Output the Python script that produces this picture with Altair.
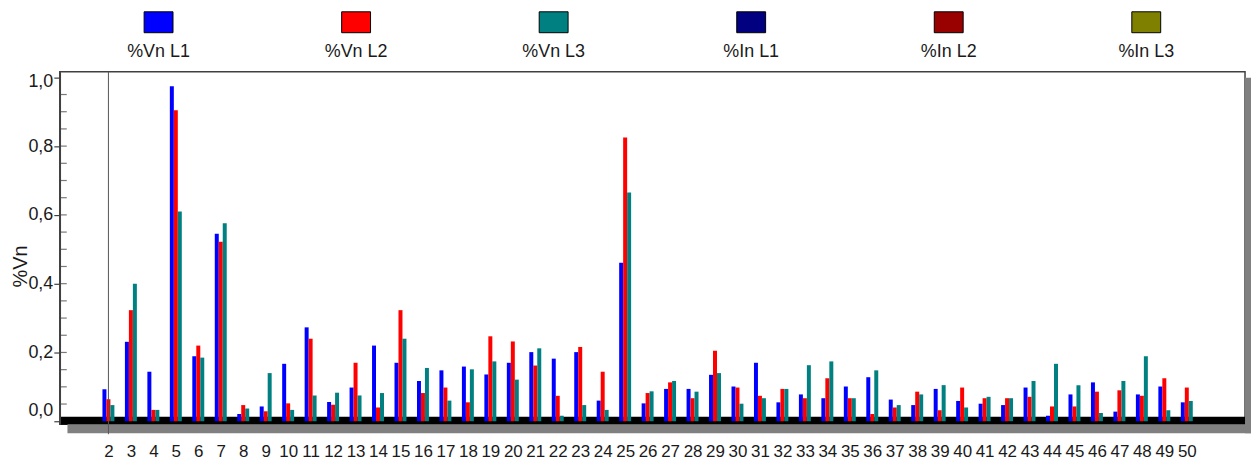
import altair as alt
import pandas as pd

# ---------------- data ----------------
harmonics = list(range(2, 51))
vn_l1 = [0.093, 0.231, 0.144, 0.974, 0.189, 0.545, 0.021, 0.043, 0.167, 0.273,
         0.056, 0.098, 0.220, 0.170, 0.117, 0.148, 0.159, 0.136, 0.170, 0.201,
         0.182, 0.201, 0.060, 0.461, 0.052, 0.094, 0.094, 0.135, 0.101, 0.170,
         0.055, 0.078, 0.067, 0.101, 0.128, 0.063, 0.047, 0.094, 0.059, 0.051,
         0.047, 0.098, 0.016, 0.078, 0.113, 0.028, 0.078, 0.101, 0.055]
vn_l2 = [0.064, 0.323, 0.033, 0.904, 0.220, 0.522, 0.047, 0.029, 0.052, 0.240,
         0.048, 0.170, 0.040, 0.323, 0.082, 0.098, 0.055, 0.247, 0.232, 0.162,
         0.074, 0.216, 0.144, 0.825, 0.082, 0.113, 0.067, 0.205, 0.098, 0.074,
         0.094, 0.067, 0.125, 0.067, 0.021, 0.040, 0.086, 0.032, 0.098, 0.067,
         0.067, 0.071, 0.043, 0.043, 0.086, 0.090, 0.074, 0.125, 0.098]
vn_l3 = [0.047, 0.400, 0.033, 0.610, 0.185, 0.576, 0.037, 0.140, 0.033, 0.075,
         0.083, 0.075, 0.082, 0.240, 0.155, 0.060, 0.151, 0.174, 0.121, 0.212,
         0.016, 0.047, 0.033, 0.665, 0.087, 0.117, 0.086, 0.140, 0.051, 0.067,
         0.094, 0.163, 0.174, 0.067, 0.148, 0.047, 0.078, 0.105, 0.040, 0.071,
         0.067, 0.117, 0.167, 0.105, 0.024, 0.117, 0.189, 0.032, 0.059]

series_names = ["%Vn L1", "%Vn L2", "%Vn L3", "%In L1", "%In L2", "%In L3"]
series_colors = ["#0000FF", "#FF0000", "#008080", "#000080", "#990000", "#808000"]

y_label_values = [0.0, 0.2, 0.4, 0.6, 0.8, 1.0]
y_inner_ticks = [0.05, 0.10, 0.15, 0.20, 0.25, 0.30, 0.35, 0.40, 0.45, 0.50,
                 0.55, 0.60, 0.65, 0.70, 0.75, 0.80, 0.85, 0.90, 0.95]
cursor_harmonic = [2]

# ---------------- layout / style ----------------
W, H = 1190, 354
FONT = "Liberation Sans, Arial, sans-serif"
TXT = "#1a1a1a"
AX = "#404040"

rows = []
for h, a, b, c in zip(harmonics, vn_l1, vn_l2, vn_l3):
    rows.append({"h": h, "series": "%Vn L1", "v": a})
    rows.append({"h": h, "series": "%Vn L2", "v": b})
    rows.append({"h": h, "series": "%Vn L3", "v": c})
df = pd.DataFrame(rows)

xscale = alt.Scale(domain=[0.057, 52.37], nice=False, zero=False)
yscale = alt.Scale(domain=[-0.0087, 1.0165], nice=False, zero=False)
cscale = alt.Scale(domain=series_names, range=series_colors)

x_axis = alt.Axis(values=harmonics, format="d", title=None, ticks=False, tickSize=0,
                  labelFont=FONT, labelFontSize=17, labelColor=TXT,
                  domainColor="black", domainWidth=8, offset=-4, labelPadding=23,
                  grid=False, labelOverlap=False, labelFlush=False)
y_axis = alt.Axis(values=y_label_values,
                  labelExpr="replace(format(datum.value, '.1f'), '.', ',')",
                  labelOffset={"condition": [{"test": "datum.value == 0", "value": -11},
                                             {"test": "datum.value == 1", "value": 4}],
                               "value": 0},
                  title="%Vn", titleFont=FONT, titleFontSize=20,
                  titleFontWeight="normal", titleColor=TXT,
                  titleBaseline="alphabetic",
                  titleX=-33, titleY=195,
                  labelFont=FONT, labelFontSize=18, labelColor=TXT,
                  labelPadding=1,
                  tickSize=6, tickColor=AX, tickWidth=1.2,
                  domainColor=AX, domainWidth=1.5, grid=False)

one = alt.Data(values=[{}])
shadow_bottom = alt.Chart(one).mark_rect(color="#808080").encode(
    x=alt.value(7.7), x2=alt.value(W + 6), y=alt.value(H), y2=alt.value(H + 9))
shadow_right = alt.Chart(one).mark_rect(color="#808080").encode(
    x=alt.value(W), x2=alt.value(W + 6), y=alt.value(6), y2=alt.value(H + 9))

offsets = {"%Vn L1": -4, "%Vn L2": 0, "%Vn L3": 4}
bar_layers = []
for name in series_names[:3]:
    bar_layers.append(
        alt.Chart(df).transform_filter(alt.datum.series == name)
        .mark_bar(width=4, xOffset=offsets[name], orient="vertical")
        .encode(
            x=alt.X("h:Q", scale=xscale, axis=x_axis),
            y=alt.Y("v:Q", scale=yscale, axis=y_axis),
            color=alt.Color("series:N", scale=cscale, legend=None),
        )
    )

inner_ticks = alt.Chart(pd.DataFrame({"t": y_inner_ticks})).mark_tick(
    orient="horizontal", size=7, thickness=1.2, color=AX
).encode(y=alt.Y("t:Q", scale=yscale, axis=y_axis), x=alt.value(3.5))

cursor = alt.Chart(pd.DataFrame({"h": cursor_harmonic})).mark_rule(
    color="#555555", strokeWidth=1
).encode(x=alt.X("h:Q", scale=xscale, axis=x_axis), y=alt.value(0), y2=alt.value(H + 10))

main = alt.layer(shadow_bottom, shadow_right, *bar_layers, inner_ticks, cursor)

leg_df = pd.DataFrame({"series": series_names})
lx = alt.X("series:N", sort=series_names,
           scale=alt.Scale(domain=series_names, paddingInner=0, paddingOuter=0), axis=None)
swatch = alt.Chart(leg_df).mark_point(
    shape="M-1,-0.724L1,-0.724L1,0.724L-1,0.724Z", size=841, filled=True,
    opacity=1, stroke="black", strokeWidth=1, strokeOpacity=1
).encode(x=lx, y=alt.value(-49.6),
         fill=alt.Color("series:N", scale=cscale, legend=None))
leg_text = alt.Chart(leg_df).mark_text(font=FONT, fontSize=18, color=TXT).encode(
    x=lx, y=alt.value(-19.6), text="series:N")
legend = alt.layer(swatch, leg_text)

chart = (
    alt.layer(main, legend)
    .resolve_scale(x="independent")
    .properties(width=W, height=H,
                padding={"left": 3, "top": 0, "right": 0, "bottom": 0},
                background="white")
    .configure_view(stroke=AX, strokeWidth=1.5)
)

chart.save("out.html", embed_options={"renderer": "svg", "actions": False})
